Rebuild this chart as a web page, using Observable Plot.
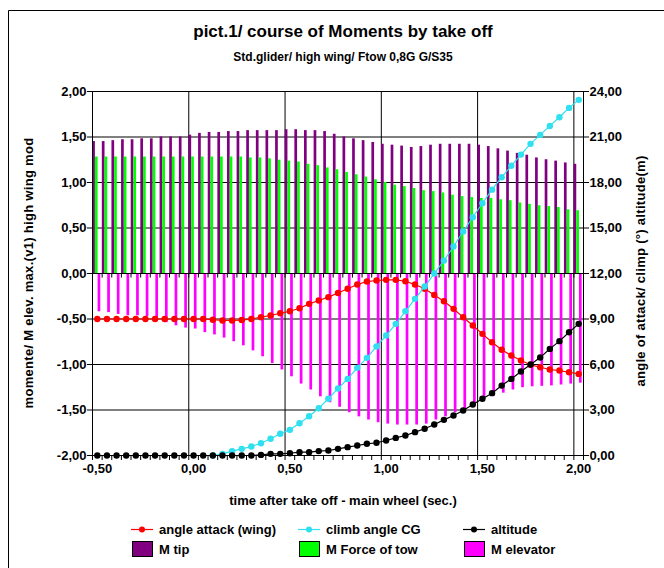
<!DOCTYPE html>
<html>
<head>
<meta charset="utf-8">
<script src="https://cdn.jsdelivr.net/npm/d3@7"></script>
<script src="https://cdn.jsdelivr.net/npm/@observablehq/plot@0.6"></script>
<style>
  body { margin: 0; background: #fff; }
  #chart svg { display: block; }
</style>
</head>
<body>
<div id="chart"></div>
<script>
// time after take off (sec.) — category values
const times = [-0.50,-0.45,-0.40,-0.35,-0.30,-0.25,-0.20,-0.15,-0.10,-0.05,
  0.00,0.05,0.10,0.15,0.20,0.25,0.30,0.35,0.40,0.45,
  0.50,0.55,0.60,0.65,0.70,0.75,0.80,0.85,0.90,0.95,
  1.00,1.05,1.10,1.15,1.20,1.25,1.30,1.35,1.40,1.45,
  1.50,1.55,1.60,1.65,1.70,1.75,1.80,1.85,1.90,1.95,2.00];

// left axis series (moments)
const mTip = [1.45,1.45,1.46,1.47,1.47,1.48,1.48,1.50,1.50,1.50,
  1.52,1.54,1.55,1.55,1.56,1.56,1.57,1.57,1.57,1.57,
  1.58,1.58,1.57,1.57,1.56,1.53,1.50,1.48,1.46,1.44,
  1.42,1.41,1.40,1.385,1.395,1.41,1.42,1.42,1.42,1.42,
  1.41,1.395,1.37,1.345,1.32,1.30,1.27,1.25,1.235,1.215,1.20];
const mForce = [1.28,1.28,1.28,1.28,1.28,1.28,1.28,1.28,1.28,1.28,
  1.28,1.28,1.28,1.28,1.28,1.28,1.27,1.27,1.26,1.245,
  1.235,1.225,1.20,1.185,1.16,1.14,1.11,1.085,1.06,1.03,
  1.00,0.97,0.955,0.935,0.91,0.90,0.885,0.86,0.845,0.835,
  0.825,0.825,0.81,0.80,0.775,0.76,0.745,0.735,0.725,0.70,0.69];
const mElev = [-0.42,-0.43,-0.45,-0.465,-0.465,-0.475,-0.49,-0.54,-0.575,-0.60,
  -0.61,-0.65,-0.675,-0.71,-0.75,-0.795,-0.85,-0.915,-0.99,-1.06,
  -1.135,-1.215,-1.28,-1.355,-1.42,-1.47,-1.53,-1.575,-1.61,-1.64,
  -1.655,-1.665,-1.665,-1.665,-1.655,-1.61,-1.575,-1.53,-1.485,-1.435,
  -1.39,-1.345,-1.315,-1.28,-1.255,-1.245,-1.24,-1.235,-1.225,-1.215,-1.205];

// right axis series
const angleAttack = [9.0,9.0,9.0,9.0,9.0,9.0,9.0,9.0,9.0,9.0,
  9.0,9.0,8.95,8.9,8.9,8.93,9.0,9.12,9.23,9.38,
  9.51,9.71,10.0,10.22,10.44,10.71,10.99,11.27,11.47,11.54,
  11.58,11.58,11.49,11.27,10.99,10.59,10.17,9.67,9.12,8.57,
  8.02,7.47,6.97,6.59,6.26,5.98,5.82,5.67,5.60,5.49,5.38];
const climbAngle = [null,null,null,null,null,null,null,null,null,null,
  null,null,0.0,0.11,0.29,0.44,0.59,0.81,1.10,1.43,
  1.69,2.13,2.59,3.12,3.74,4.42,5.05,5.78,6.44,7.19,
  7.91,8.68,9.51,10.33,11.14,12.0,12.85,13.78,14.77,15.71,
  16.63,17.53,18.35,19.10,19.84,20.55,21.14,21.73,22.30,22.92,23.45];
const altitude = [0,0,0,0,0,0,0,0,0,0,
  0,0,0,0,0,0,0,0.04,0.11,0.11,
  0.15,0.22,0.22,0.29,0.33,0.44,0.55,0.66,0.77,0.84,
  0.99,1.16,1.32,1.54,1.76,2.04,2.35,2.64,2.97,3.36,
  3.74,4.11,4.61,5.05,5.54,6.00,6.46,7.03,7.54,8.13,8.68];

// tick labels
const leftTicks = [-2,-1.5,-1,-0.5,0,0.5,1,1.5,2];
const xLabelTicks = [-0.5,0,0.5,1,1.5,2];

const titleText = "pict.1/ course of Moments by take off";
const subtitleText = "Std.glider/ high wing/ Ftow 0,8G G/S35";
const xTitle = "time after take off - main wheel (sec.)";
const yLeftTitle = "momente/ M elev. max.(v1) high wing mod";
const yRightTitle = "angle of attack/ climp (°) altitude(m)";

const lineSeries = [
  {name: "angle attack (wing)", color: "#ff0000"},
  {name: "climb angle CG", color: "#2ee0f0"},
  {name: "altitude", color: "#000000"}
];
const barSeries = [
  {name: "M tip", color: "#800080"},
  {name: "M Force of tow", color: "#00ff00"},
  {name: "M elevator", color: "#ff00ff"}
];

// ---- build table ----
const rows = times.map((t, i) => ({
  t, tip: mTip[i], force: mForce[i], elev: mElev[i],
  aoa: angleAttack[i], climb: climbAngle[i], alt: altitude[i]
}));
const half = 0.025;            // half category width
const boundaries = times.map(t => t - half).concat([times[times.length - 1] + half]);
const gridX = boundaries.filter((b, i) => i % 10 === 0 && i > 0 && i < boundaries.length - 1);
const toLeft = v => v / 6 - 2;   // right axis (0..24) -> left axis (-2..2)
const fmt = v => (Math.abs(v) < 1e-9 ? 0 : v).toFixed(2).replace(".", ",");
const bw = 0.014;

const font = "'Liberation Sans', Arial, Helvetica, sans-serif";

const chart = Plot.plot({
  width: 664,
  height: 568,
  marginLeft: 92,
  marginRight: 81,
  marginTop: 91,
  marginBottom: 113,
  x: {domain: [times[0] - half, times[times.length - 1] + half], axis: null},
  y: {domain: [-2, 2], axis: null},
  style: {fontFamily: font, fontSize: "13px", fontWeight: "bold", background: "#fff", overflow: "visible", color: "#000"},
  marks: [
    Plot.ruleY(leftTicks, {stroke: "#000", strokeWidth: 1}),
    Plot.ruleX(gridX, {stroke: "#000", strokeWidth: 1}),
    Plot.rect(rows, {x1: d => d.t - 0.024, x2: d => d.t - 0.024 + bw, y1: () => 0, y2: "tip", fill: barSeries[0].color}),
    Plot.rect(rows, {x1: d => d.t - 0.010, x2: d => d.t - 0.010 + bw, y1: () => 0, y2: "force", fill: barSeries[1].color}),
    Plot.rect(rows, {x1: d => d.t + 0.004, x2: d => d.t + 0.004 + bw, y1: () => 0, y2: "elev", fill: barSeries[2].color}),
    Plot.ruleY([0], {stroke: "#000", strokeWidth: 1}),
    Plot.ruleX(boundaries, {y1: () => 0, y2: () => -0.05, stroke: "#000", strokeWidth: 1}),
    Plot.ruleX(boundaries, {y1: () => -2, y2: () => -2.055, stroke: "#000", strokeWidth: 1}),
    Plot.frame({stroke: "#000", strokeWidth: 1}),
    Plot.line(rows, {x: "t", y: d => toLeft(d.aoa), stroke: lineSeries[0].color, strokeWidth: 1.2}),
    Plot.dot(rows, {x: "t", y: d => toLeft(d.aoa), r: 3.2, fill: lineSeries[0].color}),
    Plot.line(rows.filter(d => d.climb != null), {x: "t", y: d => toLeft(d.climb), stroke: lineSeries[1].color, strokeWidth: 1.2}),
    Plot.dot(rows.filter(d => d.climb != null), {x: "t", y: d => toLeft(d.climb), r: 3.2, fill: lineSeries[1].color}),
    Plot.line(rows, {x: "t", y: d => toLeft(d.alt), stroke: lineSeries[2].color, strokeWidth: 1.2}),
    Plot.dot(rows, {x: "t", y: d => toLeft(d.alt), r: 3.2, fill: lineSeries[2].color}),
    Plot.axisY({anchor: "left", ticks: leftTicks, tickFormat: fmt, tickSize: 5, tickPadding: 1, label: null, fontSize: 13, fontWeight: "bold"}),
    Plot.axisY({anchor: "right", ticks: leftTicks, tickFormat: v => fmt((v + 2) * 6), tickSize: 5, tickPadding: 1, label: null, fontSize: 13, fontWeight: "bold"}),
    Plot.axisX({anchor: "bottom", ticks: xLabelTicks, tickFormat: fmt, tickSize: 0, tickPadding: 8, label: null, fontSize: 13, fontWeight: "bold"})
  ]
});

document.getElementById("chart").appendChild(chart);

// ---- decorations: chart frame, titles, legend ----
const svg = d3.select(chart);
svg.append("path").attr("d", "M8.5,568 V10.5 H664").attr("fill", "none").attr("stroke", "#000").attr("stroke-width", 1);

const cx = 343;
svg.append("text").attr("x", cx).attr("y", 31).attr("dy", "0.35em").attr("text-anchor", "middle")
  .style("font", `bold 17px ${font}`).text(titleText);
svg.append("text").attr("x", cx).attr("y", 57).attr("dy", "0.35em").attr("text-anchor", "middle")
  .style("font", `bold 12px ${font}`).text(subtitleText);
svg.append("text").attr("x", cx).attr("y", 500).attr("dy", "0.35em").attr("text-anchor", "middle")
  .style("font", `bold 13px ${font}`).text(xTitle);
svg.append("text").attr("transform", "translate(28,273) rotate(-90)").attr("dy", "0.35em").attr("text-anchor", "middle")
  .style("font", `bold 13px ${font}`).style("letter-spacing", "0.3px").text(yLeftTitle);
svg.append("text").attr("transform", "translate(640,271) rotate(-90)").attr("dy", "0.35em").attr("text-anchor", "middle")
  .style("font", `bold 13px ${font}`).style("letter-spacing", "0.3px").text(yRightTitle);

const legendX = [131, 298, 463];
const lg = svg.append("g").attr("text-anchor", "start");
lineSeries.forEach((s, i) => {
  const x0 = legendX[i], y0 = 529;
  lg.append("line").attr("x1", x0).attr("x2", x0 + 22).attr("y1", y0 + 0.5).attr("y2", y0 + 0.5).attr("stroke", s.color).attr("stroke-width", 1.2);
  lg.append("circle").attr("cx", x0 + 11).attr("cy", y0 + 0.5).attr("r", 3).attr("fill", s.color);
  lg.append("text").attr("x", x0 + 28).attr("y", y0).attr("dy", "0.35em").attr("text-anchor", "start").style("font", `bold 13px ${font}`).text(s.name);
});
barSeries.forEach((s, i) => {
  const x0 = legendX[i], y0 = 549;
  lg.append("rect").attr("x", x0 + 1.5).attr("y", y0 - 7.5).attr("width", 20).attr("height", 15).attr("fill", s.color).attr("stroke", "#000").attr("stroke-width", 1);
  lg.append("text").attr("x", x0 + 28).attr("y", y0).attr("dy", "0.35em").attr("text-anchor", "start").style("font", `bold 13px ${font}`).text(s.name);
});
</script>
</body>
</html>
